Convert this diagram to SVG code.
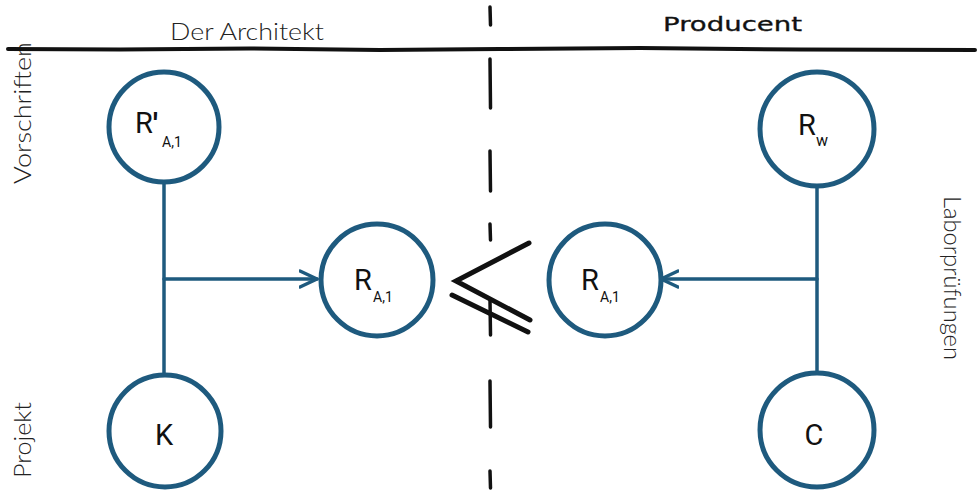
<svg xmlns="http://www.w3.org/2000/svg" width="979" height="491" viewBox="0 0 979 491">
<defs>
<style>
.node{fill:#ffffff;stroke:#1e5a7e;stroke-width:5}
.conn{fill:none;stroke:#1e5a7e;stroke-width:3.5;stroke-linecap:round}
.ink{fill:none;stroke:#111;stroke-linecap:round}
.lbl{font-family:Roboto,"Liberation Sans",sans-serif;fill:#111}
.side{font-family:Lato,"Open Sans","Liberation Sans",sans-serif;font-weight:300;fill:#222;font-size:24px}
</style>
<marker id="arr" viewBox="0 0 20 20" refX="18" refY="10" markerWidth="20" markerHeight="20" markerUnits="userSpaceOnUse" orient="auto">
<path d="M1,2 L18,10 L1,18" fill="none" stroke="#1e5a7e" stroke-width="3.5" stroke-linecap="round" stroke-linejoin="round"/>
</marker>
</defs>
<rect width="979" height="491" fill="#ffffff"/>

<!-- headers -->
<text x="170" y="40" class="side" font-size="28" textLength="154" lengthAdjust="spacingAndGlyphs">Der Architekt</text>
<text x="663" y="31" font-family="'DejaVu Sans',sans-serif" font-size="19" fill="#111" stroke="#111" stroke-width="0.3" textLength="139" lengthAdjust="spacingAndGlyphs">Producent</text>
<text transform="translate(31,184) rotate(-90)" class="side" textLength="142" lengthAdjust="spacingAndGlyphs">Vorschriften</text>
<text transform="translate(31,478) rotate(-90)" class="side" textLength="76" lengthAdjust="spacingAndGlyphs">Projekt</text>
<text transform="translate(944,196) rotate(90)" class="side" textLength="164" lengthAdjust="spacingAndGlyphs">Laborprüfungen</text>

<!-- top rule and divider -->
<path class="ink" stroke-width="4" d="M8,49 L120,49.5 L250,48.5 L380,50 L500,49 L640,48 L800,49.5 L975,50"/>
<g class="ink" stroke-width="3.5">
<path d="M490,7 L490.5,25"/>
<path d="M490,59 L490.5,108"/>
<path d="M490,151 L490.5,191"/>
<path d="M490,224 L490.5,240"/>
<path d="M490,300 L490.5,335"/>
<path d="M490,381 L490.5,427"/>
<path d="M490,471 L490.5,488"/>
</g>
<g class="ink" stroke-width="5">
<path d="M529,243 L456,281 L530,320"/>
<path d="M452,295 L528,332"/>
</g>

<!-- connectors -->
<g id="connectors">
<path class="conn" d="M164,183 L164,376"/>
<path class="conn" d="M164,279 L317,279" marker-end="url(#arr)"/>
<path class="conn" d="M817,187 L817,372"/>
<path class="conn" d="M817,279 L661,279" marker-end="url(#arr)"/>
</g>

<!-- nodes -->
<g id="n-rprime">
<circle class="node" cx="164" cy="127" r="55"/>
<text class="lbl" x="135" y="133" font-size="29">R</text>
<text class="lbl" x="153" y="134" font-size="30" font-weight="bold">′</text>
<text class="lbl" x="162" y="147" font-size="14">A,1</text>
</g>
<g id="n-ra-left">
<circle class="node" cx="377" cy="280" r="56"/>
<text class="lbl" x="354" y="290" font-size="29">R</text>
<text class="lbl" x="373" y="302" font-size="14">A,1</text>
</g>
<g id="n-ra-right">
<circle class="node" cx="605" cy="280" r="56"/>
<text class="lbl" x="581" y="290" font-size="29">R</text>
<text class="lbl" x="600" y="302" font-size="14">A,1</text>
</g>
<g id="n-rw">
<circle class="node" cx="817" cy="129" r="57"/>
<text class="lbl" x="798" y="135" font-size="29">R</text>
<text class="lbl" x="816" y="146" font-size="16">w</text>
</g>
<g id="n-k">
<circle class="node" cx="165" cy="431" r="56"/>
<text class="lbl" x="164" y="445" font-size="29" text-anchor="middle">K</text>
</g>
<g id="n-c">
<circle class="node" cx="817" cy="430" r="57"/>
<text class="lbl" x="814" y="445" font-size="29" text-anchor="middle">C</text>
</g>
</svg>
